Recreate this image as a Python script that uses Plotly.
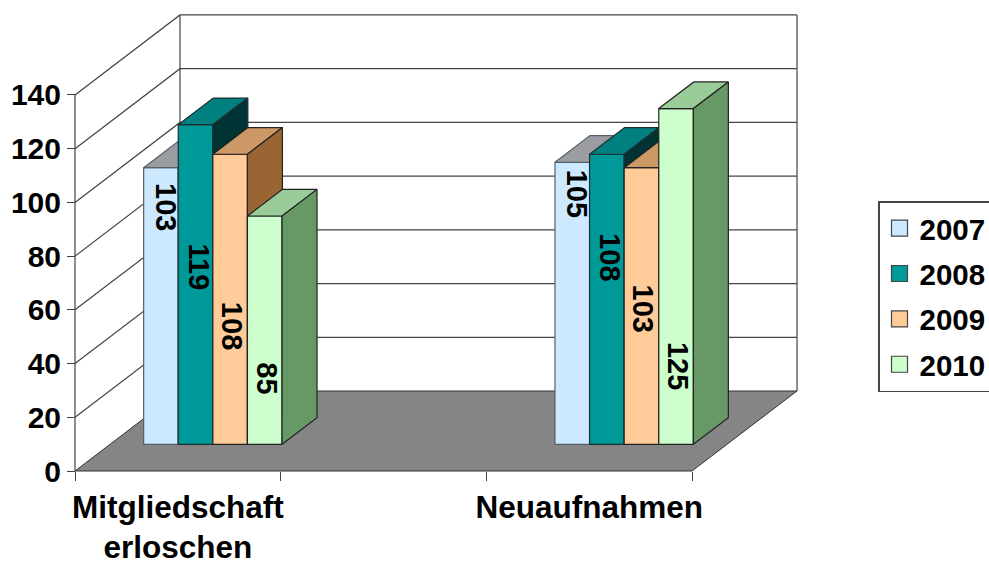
import plotly.graph_objects as go

# --- data -------------------------------------------------------------
categories = ["Mitgliedschaft<br>erloschen", "Neuaufnahmen"]
years = ["2007", "2008", "2009", "2010"]
values_2007 = [103, 105]
values_2008 = [119, 108]
values_2009 = [108, 103]
values_2010 = [85, 125]
series_values = [values_2007, values_2008, values_2009, values_2010]
y_ticks = [0, 20, 40, 60, 80, 100, 120, 140]

# --- styles -----------------------------------------------------------
front_colors = ["#CCE9FF", "#009999", "#FFCC99", "#CCFFCC"]
top_colors = ["#9C9CA3", "#008080", "#CC9966", "#99CC99"]
side_colors = ["#666699", "#003333", "#996633", "#669966"]
outlines = ["#55606A", "#1F2F2F", "#222222", "#222222"]
FONT = "Liberation Sans"

# --- projection geometry (pixel calibration of the picture) -----------
W, H = 989, 561
PX_X0, PX_CAT = 75.0, 205.67       # x pixel of category 0, width of a category
PX_Y0, PX_UNIT = 471.0, 2.686      # y pixel of value 0, pixels per value unit
DEPTH_X = 105 / PX_CAT             # wall depth in x axis units
DEPTH_Y = 80 / PX_UNIT             # wall depth in y axis units
BAR_W = 34.6 / PX_CAT
N_CAT = 3                          # the middle category position is empty
cat_pos = [0.5, 2.5]
x_range = [-PX_X0 / PX_CAT, (W - PX_X0) / PX_CAT]
y_range = [-(H - PX_Y0) / PX_UNIT, PX_Y0 / PX_UNIT]
base = DEPTH_Y / 3
off_x, off_y = DEPTH_X / 3, DEPTH_Y / 3


def px_to_val(py):
    return (PX_Y0 - py) / PX_UNIT


# rendered vertical centres of the rotated value labels, per series / category
label_centres_px = [[207, 194], [267, 257], [326, 309], [378, 366]]
label_xshift_px = [5, 3, 2, 2]

fig = go.Figure()

# floor
fig.add_trace(go.Scatter(
    x=[0, N_CAT, N_CAT + DEPTH_X, DEPTH_X, 0],
    y=[0, 0, DEPTH_Y, DEPTH_Y, 0],
    mode="lines", fill="toself", fillcolor="#858585",
    line=dict(color="#333333", width=1), showlegend=False, hoverinfo="skip"))

# walls and grid
gx, gy = [], []
for v in y_ticks[1:]:
    gx += [0, DEPTH_X, N_CAT + DEPTH_X, None]
    gy += [v, v + DEPTH_Y, v + DEPTH_Y, None]
gx += [DEPTH_X, DEPTH_X, None, N_CAT + DEPTH_X, N_CAT + DEPTH_X, None, 0, 0]
gy += [DEPTH_Y, 140 + DEPTH_Y, None, DEPTH_Y, 140 + DEPTH_Y, None, 0, 140]
fig.add_trace(go.Scatter(x=gx, y=gy, mode="lines",
                         line=dict(color="#444444", width=1.2),
                         showlegend=False, hoverinfo="skip"))

# bars: every series lives on its own overlaying subplot so that the next
# series' front face covers the previous series' side face.
for s, vals in enumerate(series_values):
    ax = str(s + 2)
    xs = [c - 2 * BAR_W + (s + 0.5) * BAR_W + off_x for c in cat_pos]
    fig.add_trace(go.Bar(
        x=xs, y=vals, base=[base] * len(vals), width=BAR_W, xaxis="x" + ax, yaxis="y" + ax,
        marker=dict(color=front_colors[s], line=dict(color=outlines[s], width=1.2)),
        name=years[s], showlegend=False))
    tx, ty, sx, sy = [], [], [], []
    for x, v in zip(xs, vals):
        l, r = x - BAR_W / 2, x + BAR_W / 2
        t = base + v
        tx += [l, r, r + off_x, l + off_x, l, None]
        ty += [t, t, t + off_y, t + off_y, t, None]
        sx += [r, r, r + off_x, r + off_x, r, None]
        sy += [base, t, t + off_y, base + off_y, base, None]
    for px_, py_, col in ((tx, ty, top_colors[s]), (sx, sy, side_colors[s])):
        fig.add_trace(go.Scatter(
            x=px_, y=py_, mode="lines", fill="toself", fillcolor=col,
            line=dict(color=outlines[s], width=1.2), xaxis="x" + ax, yaxis="y" + ax,
            showlegend=False, hoverinfo="skip"))
    for x, v, cy in zip(xs, vals, label_centres_px[s]):
        fig.add_annotation(x=x, y=px_to_val(cy), xref="x", yref="y", text=str(v),
                           textangle=90, showarrow=False, xshift=label_xshift_px[s],
                           font=dict(family=FONT, size=29, color="black", weight="bold"))

# legend entries
for s, year in enumerate(years):
    fig.add_trace(go.Scatter(
        x=[None], y=[None], mode="markers", name=year, legendgroup=year,
        marker=dict(symbol="square", size=19, color=front_colors[s],
                    line=dict(color="#444444", width=1.2))))

hidden = dict(visible=False, fixedrange=True)
layout_axes = {}
for s in range(len(series_values)):
    ax = str(s + 2)
    layout_axes["xaxis" + ax] = dict(hidden, range=x_range, overlaying="x", anchor="y" + ax)
    layout_axes["yaxis" + ax] = dict(hidden, range=y_range, overlaying="y", anchor="x" + ax)

fig.update_layout(
    width=W, height=H, autosize=False,
    margin=dict(l=0, r=0, t=0, b=0, autoexpand=False),
    paper_bgcolor="white", plot_bgcolor="white",
    barmode="overlay",
    font=dict(family=FONT, size=30, color="black"),
    xaxis=dict(range=x_range, domain=[0, 1], anchor="free", position=(H - PX_Y0) / H,
               tickmode="array", tickvals=cat_pos, ticktext=categories,
               ticks="", showgrid=False, zeroline=False, showline=False,
               tickfont=dict(family=FONT, size=31.5, weight="bold"), ticklabelstandoff=14,
               minor=dict(tickmode="array", tickvals=[0, 1, 2, 3], ticks="outside",
                          ticklen=9, tickcolor="#444444", tickwidth=1.2, showgrid=False)),
    yaxis=dict(range=y_range, domain=[0, 1], anchor="free", position=PX_X0 / W,
               tickmode="array", tickvals=y_ticks, ticks="outside", ticklen=8,
               tickcolor="#444444", tickwidth=1.2, showgrid=False, zeroline=False,
               showline=False, tickfont=dict(family=FONT, size=30, weight="bold")),
    legend=dict(x=878 / W, xanchor="left", y=1 - 201 / H, yanchor="top",
                bordercolor="#444444", borderwidth=1.5, bgcolor="white",
                font=dict(family=FONT, size=29.5, weight="bold"),
                itemsizing="trace", tracegroupgap=4, traceorder="grouped"),
    **layout_axes,
)

# the page's default body margin would push the figure off the window edge
fig.write_html("out.html", config={"displayModeBar": False},
               post_script="document.body.style.margin='0';")
